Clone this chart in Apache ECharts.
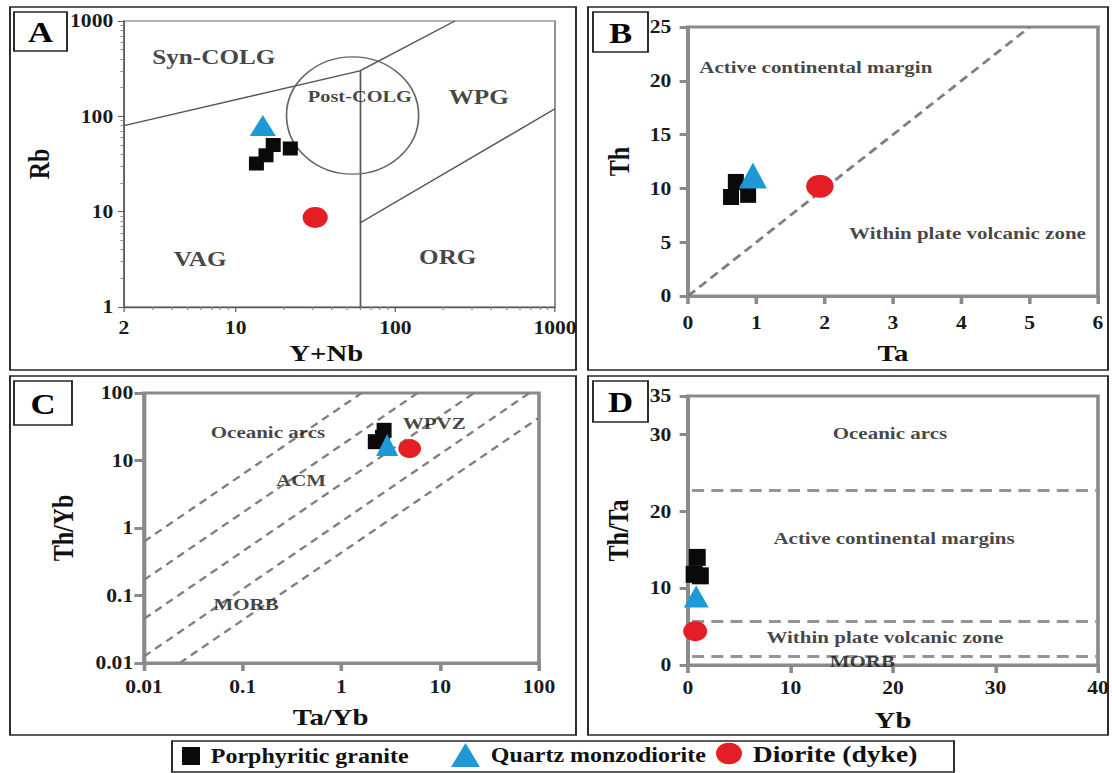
<!DOCTYPE html>
<html>
<head>
<meta charset="utf-8">
<script src="https://cdn.jsdelivr.net/npm/echarts@6/dist/echarts.min.js"></script>
<style>
html,body{margin:0;padding:0;background:#fff;overflow:hidden;width:1112px;height:773px}
#wrap{width:1112px;height:773px;overflow:hidden;position:relative}
#chart{width:927px;height:773px;transform:scaleX(1.19957);transform-origin:0 0}
</style>
</head>
<body>
<div id="wrap"><div id="chart"></div></div>
<script>
// ---------------- DATA ----------------
// Panel A : Rb vs Y+Nb (log-log)
const graniteA = [[13.5, 32], [15.5, 39], [17.2, 50], [22, 46]];
const quartzA  = [[14.8, 80]];
const dioriteA = [[31.5, 8.7]];
const boundariesA = [
  [[2, 80], [60, 300]],
  [[60, 300], [236, 1000]],
  [[60, 1], [60, 300]],
  [[60, 7.6], [1000, 120]]
];
const postColgCircle = [[54, 102, 140, 420]]; // centre x, centre y, x at right edge, y at top edge
const labelsA = [['Syn-COLG', 7.3, 426], ['Post-COLG', 60, 162], ['WPG', 333, 162], ['VAG', 6, 3.2], ['ORG', 213, 3.4]];
const rangeAx = [2, 1000], rangeAy = [1, 1000];

// Panel B : Th vs Ta
const graniteB = [[0.70, 10.6], [0.63, 9.2], [0.88, 9.4]];
const quartzB  = [[0.95, 11.2]];
const dioriteB = [[1.93, 10.2]];
const boundariesB = [[[0, 0], [5, 25]]];
const labelsB = [['Active continental margin', 1.87, 21.3], ['Within plate volcanic zone', 4.09, 5.8]];
const rangeBx = [0, 6], rangeBy = [0, 25];

// Panel C : Th/Yb vs Ta/Yb (log-log)
const graniteC = [[2.7, 28], [2.2, 19], [2.6, 22]];
const quartzC  = [[2.9, 17]];
const dioriteC = [[4.9, 15]];
const boundariesC = [
  [[0.01, 0.63], [1.6, 100]],
  [[0.01, 0.17], [5.9, 100]],
  [[0.01, 0.045], [22, 100]],
  [[0.01, 0.0125], [80, 100]],
  [[0.023, 0.01], [100, 43]]
];
const labelsC = [['Oceanic arcs', 0.18, 26], ['ACM', 0.39, 5.2], ['WPVZ', 8.7, 36], ['MORB', 0.108, 0.075]];
const rangeCx = [0.01, 100], rangeCy = [0.01, 100];

// Panel D : Th/Ta vs Yb
const graniteD = [[0.9, 14], [1.2, 11.6], [0.6, 11.8]];
const quartzD  = [[0.8, 8.9]];
const dioriteD = [[0.7, 4.4]];
const boundariesD = [
  [[0.4, 22.8], [40, 22.8]],
  [[0.4, 5.75], [40, 5.75]],
  [[0.4, 1.12], [40, 1.12]]
];
const labelsD = [['Oceanic arcs', 19.7, 30.2], ['Active continental margins', 20.1, 16.5], ['Within plate volcanic zone', 19.2, 3.6], ['MORB', 17, 0.55]];
const rangeDx = [0, 40], rangeDy = [0, 35];

const groupNames = ['Porphyritic granite', 'Quartz monzodiorite', 'Diorite (dyke)'];
const panelLetters = ['A', 'B', 'C', 'D'];
const axisNames = [['Y+Nb', 'Rb'], ['Ta', 'Th'], ['Ta/Yb', 'Th/Yb'], ['Yb', 'Th/Ta']];

// ---------------- STYLE / LAYOUT ----------------
const S = 1112 / 927;
const X = v => v / S;
const FONT = 'Liberation Serif, Times New Roman, serif';
const C_GRAN = '#0a0a0a', C_QTZ = '#1d9ad6', C_DIO = '#e31e26';
const fmt = v => String(+Number(v).toPrecision(6));

function mkGrid(l, t, r, b, color, width) {
  return {left: X(l), top: t, width: X(r - l), height: b - t, show: true,
    backgroundColor: 'transparent', borderColor: color, borderWidth: width,
    containLabel: false, outerBoundsMode: 'none'};
}
function mkAxis(o) {
  const ax = {
    gridIndex: o.g, type: o.type, min: o.range[0], max: o.range[1],
    axisLine: {show: true, onZero: false, lineStyle: {color: o.lc, width: o.lw}},
    axisTick: {show: true, inside: false, length: o.tl, lineStyle: {color: o.lc, width: o.tw}},
    splitLine: {show: false},
    axisLabel: {show: true, margin: o.margin, fontSize: 18, fontWeight: 'bold', fontFamily: FONT,
      color: '#1a1a1a', formatter: fmt},
    name: o.name, nameLocation: 'middle', nameGap: o.nameGap, nameMoveOverlap: false,
    nameTextStyle: {fontSize: 24, fontWeight: 'bold', fontFamily: FONT, color: '#111', padding: o.namePad || 0}
  };
  if (o.type === 'log') ax.logBase = 10;
  if (o.interval) ax.interval = o.interval;
  if (o.minor) {
    ax.minorTick = {show: true, splitNumber: 9, length: 3, lineStyle: {color: '#8a8a8a', width: 1}};
    ax.minorSplitLine = {show: false};
  }
  return ax;
}
function pts(name, data, gi, symbol, size, color) {
  return {type: 'scatter', name, xAxisIndex: gi, yAxisIndex: gi, data, symbol, symbolSize: size,
    itemStyle: {color, opacity: 1}, z: 6, silent: true, emphasis: {disabled: true}};
}
function bounds(data, gi, style) {
  return {type: 'lines', coordinateSystem: 'cartesian2d', xAxisIndex: gi, yAxisIndex: gi,
    data: data.map(c => ({coords: c})), lineStyle: Object.assign({opacity: 1, curveness: 0}, style),
    silent: true, z: 2};
}
function texts(items, gi, fontSize) {
  return {type: 'scatter', xAxisIndex: gi, yAxisIndex: gi, symbolSize: 1,
    itemStyle: {color: 'rgba(0,0,0,0)'},
    data: items.map(([t, x, y]) => ({name: t, value: [x, y]})),
    label: {show: true, position: 'inside', formatter: '{b}', color: '#141414', fontSize,
      fontWeight: 'bold', fontFamily: FONT},
    silent: true, z: 4, emphasis: {disabled: true}};
}
function mkLegend(name, icon, left, w, h, cy, fs) {
  return {show: true, data: [{name, icon}], left: X(left), top: cy - h / 2, orient: 'horizontal',
    padding: 0, itemWidth: X(w), itemHeight: h, selectedMode: false,
    textStyle: {fontSize: fs, fontWeight: 'bold', fontFamily: FONT, color: '#111', padding: [0, 0, 0, 4]}};
}

const GRAY = '#8a8a8a';
const dashB = {color: '#7f7f7f', width: 2.6, type: [8, 5]};
const dashC = {color: '#7f7f7f', width: 2.2, type: [7, 5]};
const dashD = {color: '#959595', width: 3, type: [10, 6]};

const frames = [[10, 7, 576, 370], [588, 7, 1108, 370], [10, 376, 576, 735], [588, 376, 1108, 735]];
const letterBoxes = [[14, 12, 67, 51], [593, 12, 648, 52], [14, 381, 72, 425], [593, 381, 648, 422]];
const legendFrame = [172, 741, 954, 772];

const graphics = [];
frames.forEach(([x1, y1, x2, y2]) => graphics.push({type: 'rect', silent: true,
  shape: {x: X(x1), y: y1, width: X(x2 - x1), height: y2 - y1},
  style: {fill: 'none', stroke: '#262626', lineWidth: 1.6}}));
letterBoxes.forEach(([x1, y1, x2, y2], i) => {
  graphics.push({type: 'rect', silent: true, z: 100,
    shape: {x: X(x1), y: y1, width: X(x2 - x1), height: y2 - y1},
    style: {fill: '#fff', stroke: '#262626', lineWidth: 1.6}});
  graphics.push({type: 'text', silent: true, z: 101, x: X((x1 + x2) / 2), y: (y1 + y2) / 2 + 1,
    style: {text: panelLetters[i], font: 'bold 29px ' + FONT, fill: '#000',
      align: 'center', verticalAlign: 'middle', textAlign: 'center', textVerticalAlign: 'middle'}});
});
graphics.push({type: 'rect', silent: true,
  shape: {x: X(legendFrame[0]), y: legendFrame[1], width: X(legendFrame[2] - legendFrame[0]), height: legendFrame[3] - legendFrame[1]},
  style: {fill: 'none', stroke: '#262626', lineWidth: 1.6}});

const option = {
  animation: false,
  backgroundColor: '#fff',
  textStyle: {fontFamily: FONT},
  grid: [
    mkGrid(124, 21, 555, 307, '#6a6a6a', 1.2),
    mkGrid(688, 27, 1098, 296, GRAY, 3),
    mkGrid(144, 393, 539, 663, GRAY, 3),
    mkGrid(688, 396, 1098, 665, GRAY, 3)
  ],
  xAxis: [
    mkAxis({g: 0, type: 'log', range: rangeAx, lc: '#5a5a5a', lw: 1.3, tl: 5, tw: 1, margin: 12, minor: true,
      name: axisNames[0][0], nameGap: 34, namePad: [0, 22, 0, 0]}),
    mkAxis({g: 1, type: 'value', range: rangeBx, interval: 1, lc: GRAY, lw: 3, tl: 8, tw: 3, margin: 18,
      name: axisNames[1][0], nameGap: 45}),
    mkAxis({g: 2, type: 'log', range: rangeCx, lc: GRAY, lw: 3, tl: 8, tw: 3, margin: 15,
      name: axisNames[2][0], nameGap: 42, namePad: [0, 18, 0, 0]}),
    mkAxis({g: 3, type: 'value', range: rangeDx, interval: 10, lc: GRAY, lw: 3, tl: 8, tw: 3, margin: 14,
      name: axisNames[3][0], nameGap: 43})
  ],
  yAxis: [
    mkAxis({g: 0, type: 'log', range: rangeAy, lc: '#5a5a5a', lw: 1.3, tl: 5, tw: 1, margin: 9, minor: true,
      name: axisNames[0][1], nameGap: 59}),
    mkAxis({g: 1, type: 'value', range: rangeBy, interval: 5, lc: GRAY, lw: 3, tl: 7, tw: 3, margin: 14,
      name: axisNames[1][1], nameGap: 45}),
    mkAxis({g: 2, type: 'log', range: rangeCy, lc: GRAY, lw: 3, tl: 8, tw: 3, margin: 9,
      name: axisNames[2][1], nameGap: 55}),
    mkAxis({g: 3, type: 'value', range: rangeDy, interval: 10, lc: GRAY, lw: 3, tl: 7, tw: 3, margin: 14,
      name: axisNames[3][1], nameGap: 46})
  ],
  legend: [
    mkLegend(groupNames[0], 'rect', 182, 18, 18, 755, 20),
    mkLegend(groupNames[1], 'triangle', 451, 29, 24, 755, 20),
    mkLegend(groupNames[2], 'circle', 716, 26, 26, 755, 23)
  ],
  graphic: {elements: graphics},
  series: [
    // Panel A
    bounds(boundariesA, 0, {color: '#555', width: 1.4, type: 'solid'}),
    {type: 'custom', xAxisIndex: 0, yAxisIndex: 0, data: postColgCircle, silent: true, z: 2,
      encode: {x: 0, y: 1},
      renderItem: function (params, api) {
        const c = api.coord([api.value(0), api.value(1)]);
        const ex = api.coord([api.value(2), api.value(1)]);
        const ey = api.coord([api.value(0), api.value(3)]);
        return {type: 'ellipse',
          shape: {cx: c[0], cy: c[1], rx: Math.abs(ex[0] - c[0]), ry: Math.abs(c[1] - ey[1])},
          style: {fill: 'none', stroke: '#666', lineWidth: 1.4}};
      }},
    texts(labelsA.slice(0, 1), 0, 21),
    texts(labelsA.slice(1, 2), 0, 17),
    texts(labelsA.slice(2), 0, 21),
    pts(groupNames[0], graniteA, 0, 'rect', [X(15), 14], C_GRAN),
    pts(groupNames[1], quartzA, 0, 'triangle', [X(26), 21], C_QTZ),
    pts(groupNames[2], dioriteA, 0, 'circle', 21, C_DIO),
    // Panel B
    bounds(boundariesB, 1, dashB),
    texts(labelsB, 1, 17.5),
    pts(groupNames[0], graniteB, 1, 'rect', [X(16), 16], C_GRAN),
    pts(groupNames[1], quartzB, 1, 'triangle', [X(28), 26], C_QTZ),
    pts(groupNames[2], dioriteB, 1, 'circle', 23, C_DIO),
    // Panel C
    bounds(boundariesC, 2, dashC),
    texts(labelsC, 2, 17.5),
    pts(groupNames[0], graniteC, 2, 'rect', [X(15), 15], C_GRAN),
    pts(groupNames[1], quartzC, 2, 'triangle', [X(22), 22], C_QTZ),
    pts(groupNames[2], dioriteC, 2, 'circle', 19, C_DIO),
    // Panel D
    bounds(boundariesD, 3, dashD),
    texts(labelsD, 3, 17.5),
    pts(groupNames[0], graniteD, 3, 'rect', [X(17), 17], C_GRAN),
    pts(groupNames[1], quartzD, 3, 'triangle', [X(25), 22], C_QTZ),
    pts(groupNames[2], dioriteD, 3, 'circle', 20, C_DIO)
  ]
};

const chart = echarts.init(document.getElementById('chart'), null, {renderer: 'svg', devicePixelRatio: 1});
chart.setOption(option);
</script>
</body>
</html>
